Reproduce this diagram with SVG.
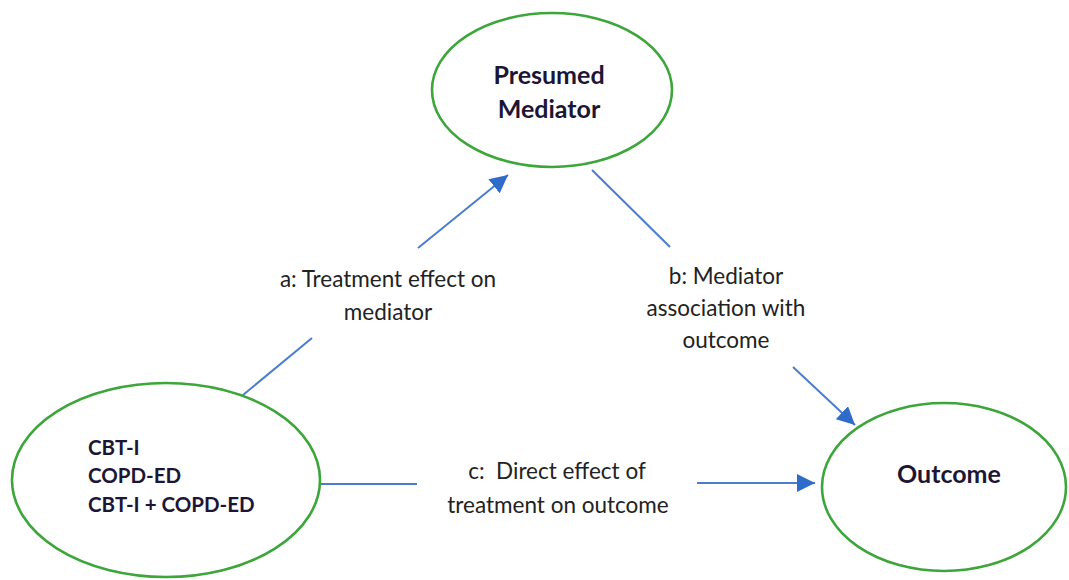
<svg xmlns="http://www.w3.org/2000/svg" width="1069" height="580" viewBox="0 0 1069 580">
<style>
.node{fill:none;stroke:#3da63a;stroke-width:2.6}
.lbl{font-family:Lato,"Open Sans","Liberation Sans",sans-serif;font-size:22.5px;fill:#222;text-anchor:middle}
.nt{font-family:Lato,"Open Sans","Liberation Sans",sans-serif;font-weight:bold;fill:#1c1634}
.edge{stroke:#4a7dd0;stroke-width:2;fill:none}
</style>
<defs>
<marker id="ahb" viewBox="0 0 10 10" refX="10" refY="5" markerWidth="9" markerHeight="9" orient="auto">
<path d="M0,0 L10,5 L0,10 z" fill="#2f6bc8"/>
</marker>
</defs>
<rect width="1069" height="580" fill="#fff"/>
<g id="connectors">
<line class="edge" x1="243" y1="395" x2="312" y2="338"/>
<line class="edge" x1="418" y1="248" x2="508" y2="175" marker-end="url(#ahb)"/>
<line class="edge" x1="592" y1="170" x2="670" y2="247"/>
<line class="edge" x1="793" y1="367" x2="855" y2="425" marker-end="url(#ahb)"/>
<line class="edge" x1="320" y1="484" x2="417" y2="484"/>
<line class="edge" x1="697" y1="483" x2="815" y2="483" marker-end="url(#ahb)"/>
<text class="lbl" x="388" y="287">a: Treatment effect on</text>
<text class="lbl" x="388" y="320">mediator</text>
<text class="lbl" x="726" y="284">b: Mediator</text>
<text class="lbl" x="726" y="316">association with</text>
<text class="lbl" x="726" y="348">outcome</text>
<text class="lbl" x="557" y="479" xml:space="preserve">c:  Direct effect of</text>
<text class="lbl" x="558" y="513">treatment on outcome</text>
</g>
<g id="mediator">
<ellipse class="node" cx="552" cy="90" rx="120" ry="77"/>
<text class="nt" x="549" y="84" font-size="25" text-anchor="middle" fill="#2a1842">Presumed</text>
<text class="nt" x="549" y="118" font-size="25" text-anchor="middle" fill="#2a1842">Mediator</text>
</g>
<g id="treatment">
<ellipse class="node" cx="166" cy="480" rx="154" ry="97"/>
<text class="nt" x="88" y="455" font-size="20.5">CBT-I</text>
<text class="nt" x="88" y="483" font-size="20.5">COPD-ED</text>
<text class="nt" x="88" y="512" font-size="20.5">CBT-I + COPD-ED</text>
</g>
<g id="outcome">
<ellipse class="node" cx="944" cy="487" rx="122" ry="84"/>
<text class="nt" x="949" y="483" font-size="25" text-anchor="middle">Outcome</text>
</g>
</svg>
